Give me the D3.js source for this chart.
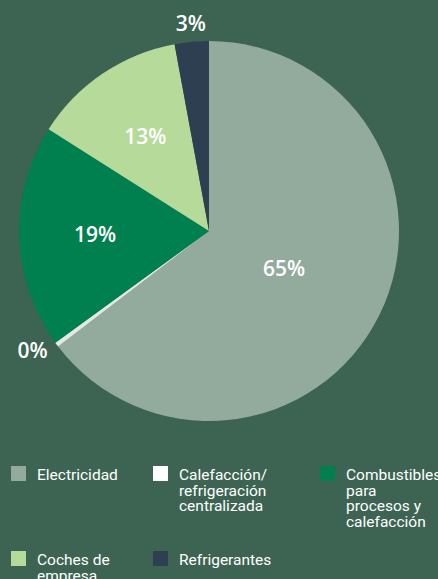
<!DOCTYPE html>
<html>
<head>
<meta charset="utf-8">
<script src="https://cdn.jsdelivr.net/npm/d3@7"></script>
<style>
  body { margin: 0; background: #3d6452; }
  svg { display: block; }
</style>
</head>
<body>
<div id="chart"></div>
<script>
// data
var categories = ["Electricidad", "Calefacción/refrigeración centralizada", "Combustibles para procesos y calefacción", "Coches de empresa", "Refrigerantes"];
var values = [64.6, 0.4, 19.0, 13.1, 2.9];
var legendLines = [
  ["Electricidad"],
  ["Calefacción/", "refrigeración", "centralizada"],
  ["Combustibles", "para", "procesos y", "calefacción"],
  ["Coches de", "empresa"],
  ["Refrigerantes"]
];
var colors = ["#93ab9d", "#ffffff", "#00804f", "#b5da9a", "#2d3f51"];

var svgWidth = 438, svgHeight = 579;
var cx = 209, cy = 231, radius = 190;

var svg = d3.select("#chart").append("svg")
  .attr("width", svgWidth)
  .attr("height", svgHeight);

var data = categories.map(function(c, i) {
  return { name: c, value: values[i], color: colors[i], lines: legendLines[i] };
});

var pie = d3.pie().sort(null).value(d => d.value);
var arcs = pie(data);

var arc = d3.arc().innerRadius(0).outerRadius(radius);

var pieGroup = svg.append("g")
  .attr("transform", `translate(${cx}, ${cy})`);

pieGroup.selectAll("path")
  .data(arcs)
  .enter()
  .append("path")
  .attr("d", arc)
  .attr("fill", d => d.data.color)
  .attr("opacity", d => d.data.color == "#ffffff" ? 0.85 : 1);

// labels: small slices go outside, the big one sits nearer the middle
function labelPos(d) {
  var a = (d.startAngle + d.endAngle) / 2;
  var s = Math.sin(a), c = Math.cos(a);
  if (d.data.value < 5) {
    // outside: push the text clear of the rim
    var x = (radius + 10) * s, y = -(radius + 10) * c;
    if (Math.abs(s) > 0.5) x += Math.sign(s) * 16;
    else y -= Math.sign(c) * 8;
    return [x, y];
  }
  var r = d.data.value > 50 ? radius * 0.44 : radius * 0.6;
  return [r * s, -r * c];
}

pieGroup.selectAll(".pctLabel")
  .data(arcs)
  .enter()
  .append("text")
  .classed("pctLabel", true)
  .attr("transform", d => `translate(${labelPos(d)})`)
  .attr("text-anchor", "middle")
  .attr("dy", "0.36em")
  .attr("fill", "#ffffff")
  .attr("font-family", "'Open Sans', sans-serif")
  .attr("font-weight", 600)
  .attr("font-size", "21px")
  .text(d => Math.round(d.data.value) + "%");

// legend
var colX = [11, 153, 320];
var rowY = [466, 551];

var legend = svg.selectAll(".legendItem")
  .data(data)
  .enter()
  .append("g")
  .classed("legendItem", true)
  .attr("transform", (d, i) => `translate(${colX[i % 3]}, ${rowY[Math.floor(i / 3)]})`);

legend.append("rect")
  .attr("width", 15)
  .attr("height", 15)
  .attr("fill", d => d.color);

legend.append("text")
  .attr("x", 26)
  .attr("y", 14)
  .attr("fill", "#ffffff")
  .attr("font-family", "Roboto, sans-serif")
  .attr("font-size", "15.5px")
  .selectAll("tspan")
  .data(d => d.lines)
  .enter()
  .append("tspan")
  .attr("x", 26)
  .attr("dy", (d, i) => i == 0 ? 0 : 15.5)
  .text(d => d);
</script>
</body>
</html>
